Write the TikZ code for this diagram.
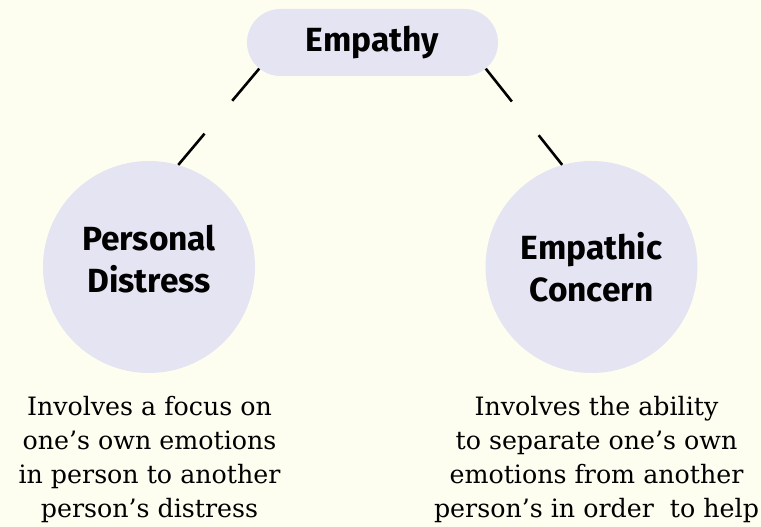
\documentclass[tikz,border=0pt]{standalone}
\usepackage{fontspec}
\setmainfont{DejaVu Serif}
\newfontfamily\headfont{Fira Sans}
\usetikzlibrary{shapes.misc}
\definecolor{paper}{RGB}{254,254,240}
\definecolor{bubble}{RGB}{229,228,243}
\tikzset{
  hub/.style={rounded rectangle, fill=bubble, minimum width=251pt, minimum height=67pt,
    inner sep=0pt, font=\headfont\bfseries\fontsize{33.5}{38}\selectfont},
  branch/.style={circle, fill=bubble, minimum size=212pt, inner sep=0pt},
  branchlabel/.style={align=center, inner sep=0pt, font=\headfont\bfseries\fontsize{33.5}{41.5}\selectfont},
  link/.style={line width=2.6pt, dash pattern=on 42pt off 43pt},
  note/.style={align=center, anchor=north, inner sep=0pt, font=\fontsize{25.3}{34}\selectfont}
}

\begin{document}
\begin{tikzpicture}[x=1pt,y=1pt]
  \fill[paper] (0,0) rectangle (761,527);
  \useasboundingbox (0,0) rectangle (761,527);

  % top bubble and the two branches
  \node[hub] (empathy) at (372.5,484.5) {Empathy};
  \node[branch] (distress) at (149,260) {};
  \node[branch] (concern) at (591.5,260) {};
  \node[branchlabel] (distresslabel) at ([yshift=8pt]distress.center) {Personal\\Distress};
  \node[branchlabel] (concernlabel) at (concern.center) {Empathic\\Concern};

  % dashed links
  \draw[link] (empathy.193) -- (distress.74);
  \draw[link] (empathy.347) -- (concern.106);

  % descriptions
  \node[note] (distressnote) at (149.5,131) {Involves a focus on\\one’s own emotions\\in person to another\\person’s distress};
  \node[note] (concernnote) at (596.5,131) {Involves the ability\\to separate one’s own\\emotions from another\\person’s in order\ \ to help};
\end{tikzpicture}
\end{document}
